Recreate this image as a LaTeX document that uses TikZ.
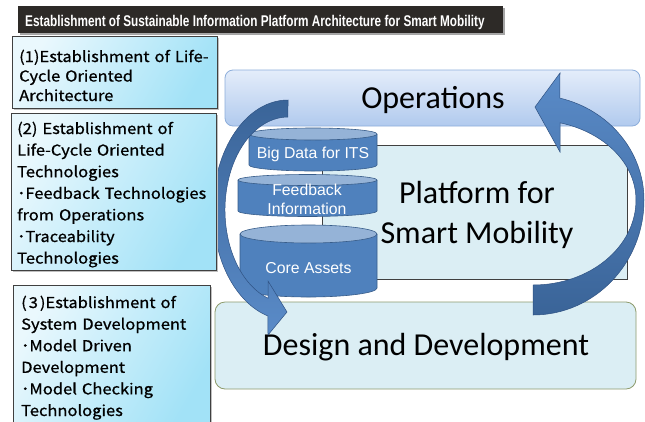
\documentclass[tikz,border=0pt]{standalone}
\usepackage{fontspec}
\setmainfont{Carlito}
\newfontfamily\gothic[FakeStretch=1.1, FakeBold=0.8]{Noto Sans CJK JP}
\newfontfamily\narrow{Liberation Sans}
\newfontfamily\titlefont[FakeStretch=0.76]{Liberation Sans}
\usetikzlibrary{positioning}

\definecolor{lbA}{HTML}{EAF8FD}
\definecolor{lbB}{HTML}{A2E2F7}
\definecolor{opsA}{HTML}{E4EDFA}
\definecolor{opsB}{HTML}{B1CAEE}
\definecolor{opsL}{HTML}{8DAEDB}
\definecolor{pale}{HTML}{DBEEF4}
\definecolor{ddL}{HTML}{8D9B6C}
\definecolor{cylB}{HTML}{4F81BD}
\definecolor{cylL}{HTML}{385D8A}
\definecolor{cylT}{HTML}{95B3D7}
\definecolor{arA}{HTML}{5A8BC8}
\definecolor{arB}{HTML}{3A6498}
\definecolor{arL}{HTML}{2F5283}

\tikzset{lb/.style  = {draw=black!75, line width=0.8pt, left color=lbA, right color=lbB, shading angle=60},
         lt/.style  = {anchor=base west, inner sep=0pt, text width=205pt, align=left,
                       font=\gothic\fontsize{15}{21.6}\selectfont},
         cyl/.style = {draw=cylL, fill=cylB, line width=0.6pt},
         cylt/.style= {draw=cylL, fill=cylT, line width=0.6pt},
         ct/.style  = {text=white, inner sep=0pt, align=center,
                       font=\narrow\fontsize{15.8}{19}\selectfont},
         big/.style = {inner sep=0pt, align=center, font=\fontsize{32}{40}\selectfont},
         ar/.style  = {draw=arL, line width=0.5pt}}

\begin{document}
\begin{tikzpicture}[x=1pt, y=-1pt]
    \useasboundingbox (0,0) rectangle (645,421);
    \fill[white] (0,0) rectangle (645,421);

    % right part
    \draw[opsL, line width=0.8pt, rounded corners=8pt, top color=opsA, bottom color=opsB]
        (225,70) rectangle (640,126);
    \node[big] (ops) at (433,100) {Operations};
    \draw[black!75, fill=pale, line width=0.8pt] (322,145) rectangle (627,279);
    \node[big] (plat) at (477,215) {Platform for\\Smart Mobility};
    \draw[ddL, fill=pale, line width=0.8pt, rounded corners=10pt] (215,302) rectangle (636,389);
    \node[big] (dd) at (426,347) {Design and Development};

    % databases
    \draw[cyl] (249,134) -- (249,165) arc[start angle=180, end angle=0, x radius=64, y radius=6] -- (377,134);
    \draw[cylt] (313,134) ellipse[x radius=64, y radius=6];
    \node[ct] (bd) at (313,154) {Big Data for ITS};
    \draw[cyl] (238,180) -- (238,211) arc[start angle=180, end angle=0, x radius=69.5, y radius=5.5] -- (377,180);
    \draw[cylt] (307.5,180) ellipse[x radius=69.5, y radius=5.5];
    \node[ct] (fb) at (307,199) {Feedback\\Information};
    \draw[cyl] (240,234) -- (240,288) arc[start angle=180, end angle=0, x radius=68.5, y radius=9] -- (377,234);
    \draw[cylt] (308.5,234) ellipse[x radius=68.5, y radius=9];
    \node[ct] (ca) at (308.5,268) {Core Assets};

    % circular arrows
    \path[ar, top color=arB, bottom color=arA]
        (288,100) arc[start angle=270, end angle=105.5, x radius=75, y radius=110]
        -- (268,335) -- (287,312) -- (268,281) -- (268,298.2)
        arc[start angle=108.5, end angle=270, x radius=63, y radius=93] -- cycle;
    \path[ar, top color=arA, bottom color=arB]
        (533,315) arc[start angle=90, end angle=0, x radius=111, y radius=115]
        arc[start angle=0, end angle=-76, x radius=111, y radius=105]
        -- (560,73) -- (535,107) -- (560,152) -- (560,122.8)
        arc[start angle=-74.8, end angle=0, x radius=103, y radius=80]
        arc[start angle=0, end angle=90, x radius=103, y radius=85] -- cycle;

    % left boxes
    \fill[black!25] (14,38) rectangle (219,110);
    \path[lb] (12,36) rectangle (217,108);
    \node[lt, font=\gothic\fontsize{15}{19.5}\selectfont] (t1) at (19,62)
        {(1)Establishment of Life-\\Cycle Oriented\\Architecture};
    \fill[black!25] (13,115) rectangle (218,272);
    \path[lb] (11,113) rectangle (216,270);
    \node[lt] (t2) at (17,134)
        {(2) Establishment of\\Life-Cycle Oriented\\Technologies\\･Feedback Technologies\\from Operations\\･Traceability\\Technologies};
    \fill[black!25] (15,287) rectangle (212,430);
    \path[lb] (13,285) rectangle (210,430);
    \node[lt] (t3) at (21,308)
        {(\kern2pt 3\kern2pt)Establishment of\\System Development\\･Model Driven\\Development\\･Model Checking\\Technologies};

    % title
    \fill[black!35] (20,8) rectangle (505,35);
    \fill[black!90!olive] (18,6) rectangle (503,33);
    \node[anchor=base west, inner sep=0pt, text=white, font=\titlefont\bfseries\fontsize{15.5}{18}\selectfont]
        (title) at (25,26.5) {Establishment of Sustainable Information Platform Architecture for Smart Mobility};
\end{tikzpicture}
\end{document}
